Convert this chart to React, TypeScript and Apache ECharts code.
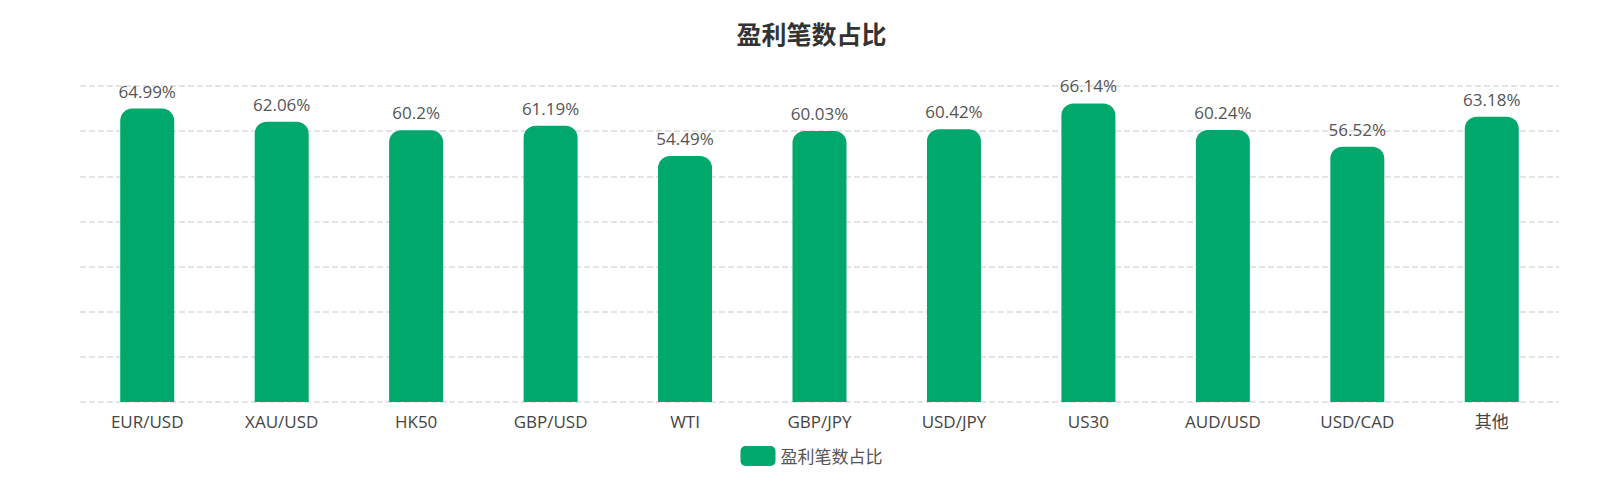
import React from 'react';
import * as echarts from 'echarts';

const categories = ['EUR/USD', 'XAU/USD', 'HK50', 'GBP/USD', 'WTI', 'GBP/JPY', 'USD/JPY', 'US30', 'AUD/USD', 'USD/CAD', '其他'];
const winRatio = [64.99, 62.06, 60.2, 61.19, 54.49, 60.03, 60.42, 66.14, 60.24, 56.52, 63.18];
const seriesName = '盈利笔数占比';

const FONT = '"Open Sans", "Noto Sans CJK SC", sans-serif';

const App = () => {
  const chartRef = React.useRef(null);

  React.useEffect(() => {
    document.body.style.margin = '0';
    const myChart = echarts.init(chartRef.current, null, { renderer: 'svg' });

    myChart.setOption({
      animation: false,
      title: {
        text: seriesName,
        left: 'center',
        top: 16,
        textStyle: { fontSize: 25, fontWeight: 'bold', color: '#333', fontFamily: FONT },
      },
      legend: {
        bottom: 18,
        itemWidth: 35,
        itemHeight: 20,
        itemGap: 10,
        icon: 'roundRect',
        textStyle: { fontSize: 17, color: '#555', fontFamily: FONT },
        data: [seriesName],
      },
      grid: { left: 80, right: 64, top: 86, bottom: 87 },
      xAxis: {
        type: 'category',
        data: categories,
        axisLine: { show: false },
        axisTick: { show: false },
        axisLabel: { fontSize: 17, color: '#444', margin: 11, fontFamily: FONT },
      },
      yAxis: {
        type: 'value',
        min: 0,
        max: 70,
        interval: 10,
        axisLabel: { show: false },
        axisLine: { show: false },
        axisTick: { show: false },
        splitLine: { lineStyle: { type: 'dashed', color: '#dcdcdc', width: 1.5 } },
      },
      series: [
        {
          name: seriesName,
          type: 'bar',
          data: winRatio,
          barWidth: 54,
          itemStyle: { color: '#00a96b', borderRadius: [12, 12, 0, 0] },
          label: {
            show: true,
            position: 'top',
            distance: 9,
            formatter: '{c}%',
            fontSize: 17,
            color: '#555',
            fontFamily: FONT,
          },
        },
      ],
    });

    return () => {
      myChart.dispose();
    };
  }, []);

  return <div ref={chartRef} style={{ width: '1623px', height: '489px' }} />;
};

export default App;
